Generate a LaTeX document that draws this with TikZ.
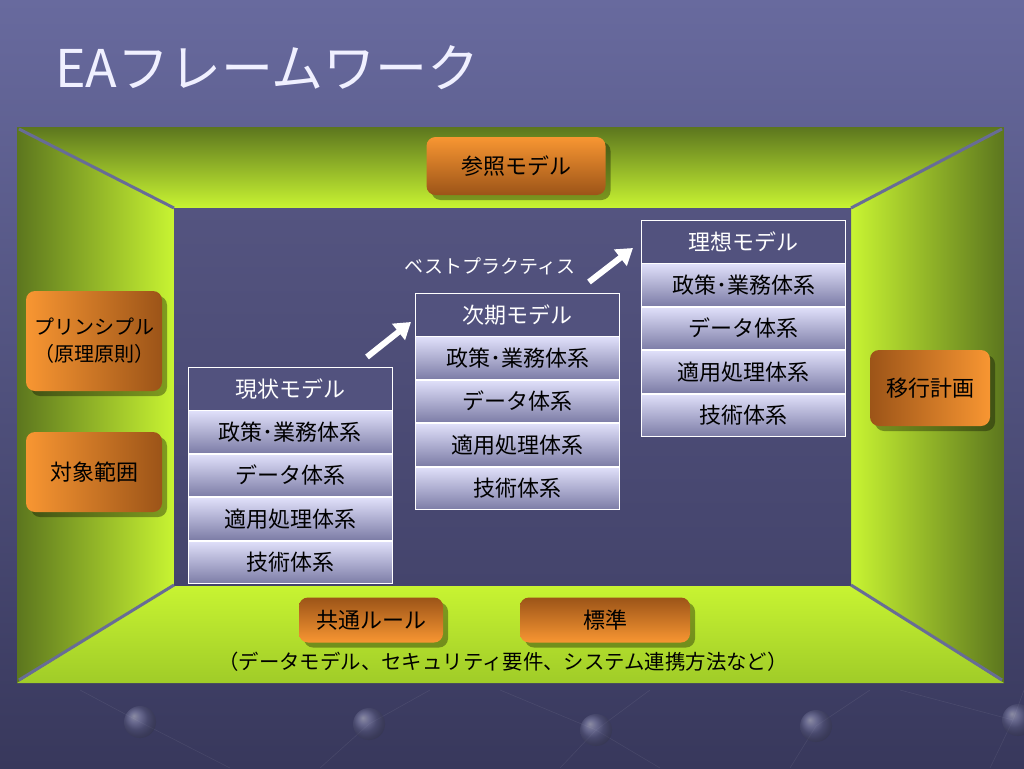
\documentclass[tikz,border=0pt]{standalone}
\usepackage{fontspec}
\setmainfont{Noto Sans CJK JP}
\usetikzlibrary{shadows,arrows.meta}
\definecolor{bgtop}{RGB}{104,106,158}
\definecolor{bgbot}{RGB}{56,56,92}
\definecolor{olive}{RGB}{92,118,30}
\definecolor{lime}{RGB}{200,244,50}
\definecolor{limebot}{RGB}{160,204,40}
\definecolor{innertop}{RGB}{84,84,128}
\definecolor{innerbot}{RGB}{68,68,108}
\definecolor{diag}{RGB}{104,108,150}
\definecolor{orlight}{RGB}{248,150,50}
\definecolor{ordark}{RGB}{156,84,24}
\definecolor{hdr}{RGB}{82,82,126}
\definecolor{rowtop}{RGB}{224,224,250}
\definecolor{rowbot}{RGB}{124,124,166}
\definecolor{dotc}{RGB}{128,130,180}
\tikzset{
  obox/.style={rounded corners=9pt, inner sep=0pt, align=center, text=black,
    font=\fontsize{22}{27}\selectfont,
    drop shadow={shadow xshift=5pt, shadow yshift=-5pt, fill=black, opacity=0.35}},
  cellbase/.style={draw=white, line width=0.8pt, minimum width=204pt, minimum height=42.6pt,
    inner sep=0pt, anchor=north, font=\fontsize{22}{26}\selectfont},
  hcell/.style={cellbase, fill=hdr, text=white},
  rcell/.style={cellbase, top color=rowtop, bottom color=rowbot, text=black},
  bigarrow/.style={white, line width=6pt, -{Triangle[length=16pt,width=20pt]}},
  diagline/.style={diag, line width=3pt},
  dot/.style={ball color=dotc, draw=none, opacity=0.45}
}
\begin{document}
\begin{tikzpicture}[x=1pt,y=-1pt]
\useasboundingbox (0,0) rectangle (1024,768);
% background
\shade[top color=bgtop, bottom color=bgbot] (0,0) rectangle (1024,768);
% faint texture lines and dots at bottom
\draw[white, opacity=0.07, line width=0.6pt] (80,690) -- (140,722) -- (230,768);
\draw[white, opacity=0.07, line width=0.6pt] (430,690) -- (369,724) -- (320,768);
\draw[white, opacity=0.07, line width=0.6pt] (500,690) -- (596,730) -- (660,768);
\draw[white, opacity=0.07, line width=0.6pt] (650,690) -- (596,730) -- (560,768);
\draw[white, opacity=0.07, line width=0.6pt] (870,690) -- (816,726) -- (790,768);
\draw[white, opacity=0.07, line width=0.6pt] (900,690) -- (1013,720);
\draw[white, opacity=0.07, line width=0.6pt] (1024,690) -- (1013,720) -- (990,768);
\shade[dot] (140,722) circle (16);
\shade[dot] (369,724) circle (16);
\shade[dot] (596,730) circle (16);
\shade[dot] (816,726) circle (16);
\shade[dot] (1018,720) circle (16);
% green frame
\shade[top color=olive, middle color=lime!80!olive, bottom color=lime]
  (17,127) -- (1004,127) -- (851,208) -- (174,208) -- cycle;
\shade[left color=olive, right color=lime]
  (17,127) -- (174,208) -- (174,585) -- (17,683) -- cycle;
\shade[left color=lime, right color=olive]
  (1004,127) -- (1004,683) -- (851,585) -- (851,208) -- cycle;
\shade[top color=lime, bottom color=limebot]
  (174,585) -- (851,585) -- (1004,683) -- (17,683) -- cycle;
% inner area
\shade[top color=innertop, bottom color=innerbot] (174,208) rectangle (851,585);
% diagonal lines
\draw[diagline] (19,129) -- (174,208);
\draw[diagline] (1002,129) -- (851,208);
\draw[diagline] (19,680) -- (174,585);
\draw[diagline] (1002,680) -- (851,585);
% title
\node[anchor=west, inner sep=0pt, text=white!94!blue, font=\fontsize{52}{60}\selectfont] (title) at (55,68) {EAフレームワーク};
% orange boxes
\node[obox, top color=orlight, bottom color=ordark, minimum width=179pt, minimum height=58pt] (ref) at (516,166) {参照モデル};
\node[obox, left color=orlight, right color=ordark, minimum width=136pt, minimum height=100pt, font=\fontsize{20}{27}\selectfont] (princ) at (94,341) {プリンシプル\\（原理原則）};
\node[obox, left color=orlight, right color=ordark, minimum width=136pt, minimum height=80pt] (scope) at (94,472) {対象範囲};
\node[obox, left color=ordark, right color=orlight, minimum width=120pt, minimum height=76pt] (migr) at (930,388) {移行計画};
\node[obox, top color=ordark, bottom color=orlight, minimum width=144pt, minimum height=45pt] (common) at (371,620) {共通ルール};
\node[obox, top color=ordark, bottom color=orlight, minimum width=170pt, minimum height=45pt] (std) at (605,620) {標準};
\node[inner sep=0pt, font=\fontsize{20.4}{24}\selectfont, text=black] (note) at (503,662) {（データモデル、セキュリティ要件、システム連携方法など）};
% table 1: current
\node[hcell] (t1h) at (290,367) {現状モデル};
\node[rcell] (t1a) at (t1h.south) {政策･業務体系};
\node[rcell] (t1b) at (t1a.south) {データ体系};
\node[rcell] (t1c) at (t1b.south) {適用処理体系};
\node[rcell] (t1d) at (t1c.south) {技術体系};
% table 2: next
\node[hcell] (t2h) at (517.5,293) {次期モデル};
\node[rcell] (t2a) at (t2h.south) {政策･業務体系};
\node[rcell] (t2b) at (t2a.south) {データ体系};
\node[rcell] (t2c) at (t2b.south) {適用処理体系};
\node[rcell] (t2d) at (t2c.south) {技術体系};
% table 3: ideal
\node[hcell] (t3h) at (743.5,220) {理想モデル};
\node[rcell] (t3a) at (t3h.south) {政策･業務体系};
\node[rcell] (t3b) at (t3a.south) {データ体系};
\node[rcell] (t3c) at (t3b.south) {適用処理体系};
\node[rcell] (t3d) at (t3c.south) {技術体系};
% arrows
\coordinate (a1s) at (367,357);
\coordinate (a1e) at (411,322);
\draw[bigarrow] (a1s) -- (a1e);
\coordinate (a2s) at (589,282);
\coordinate (a2e) at (633,248);
\draw[bigarrow] (a2s) -- (a2e);
\node[inner sep=0pt, text=white, font=\fontsize{19}{23}\selectfont] (best) at (490,266) {ベストプラクティス};
\end{tikzpicture}
\end{document}
